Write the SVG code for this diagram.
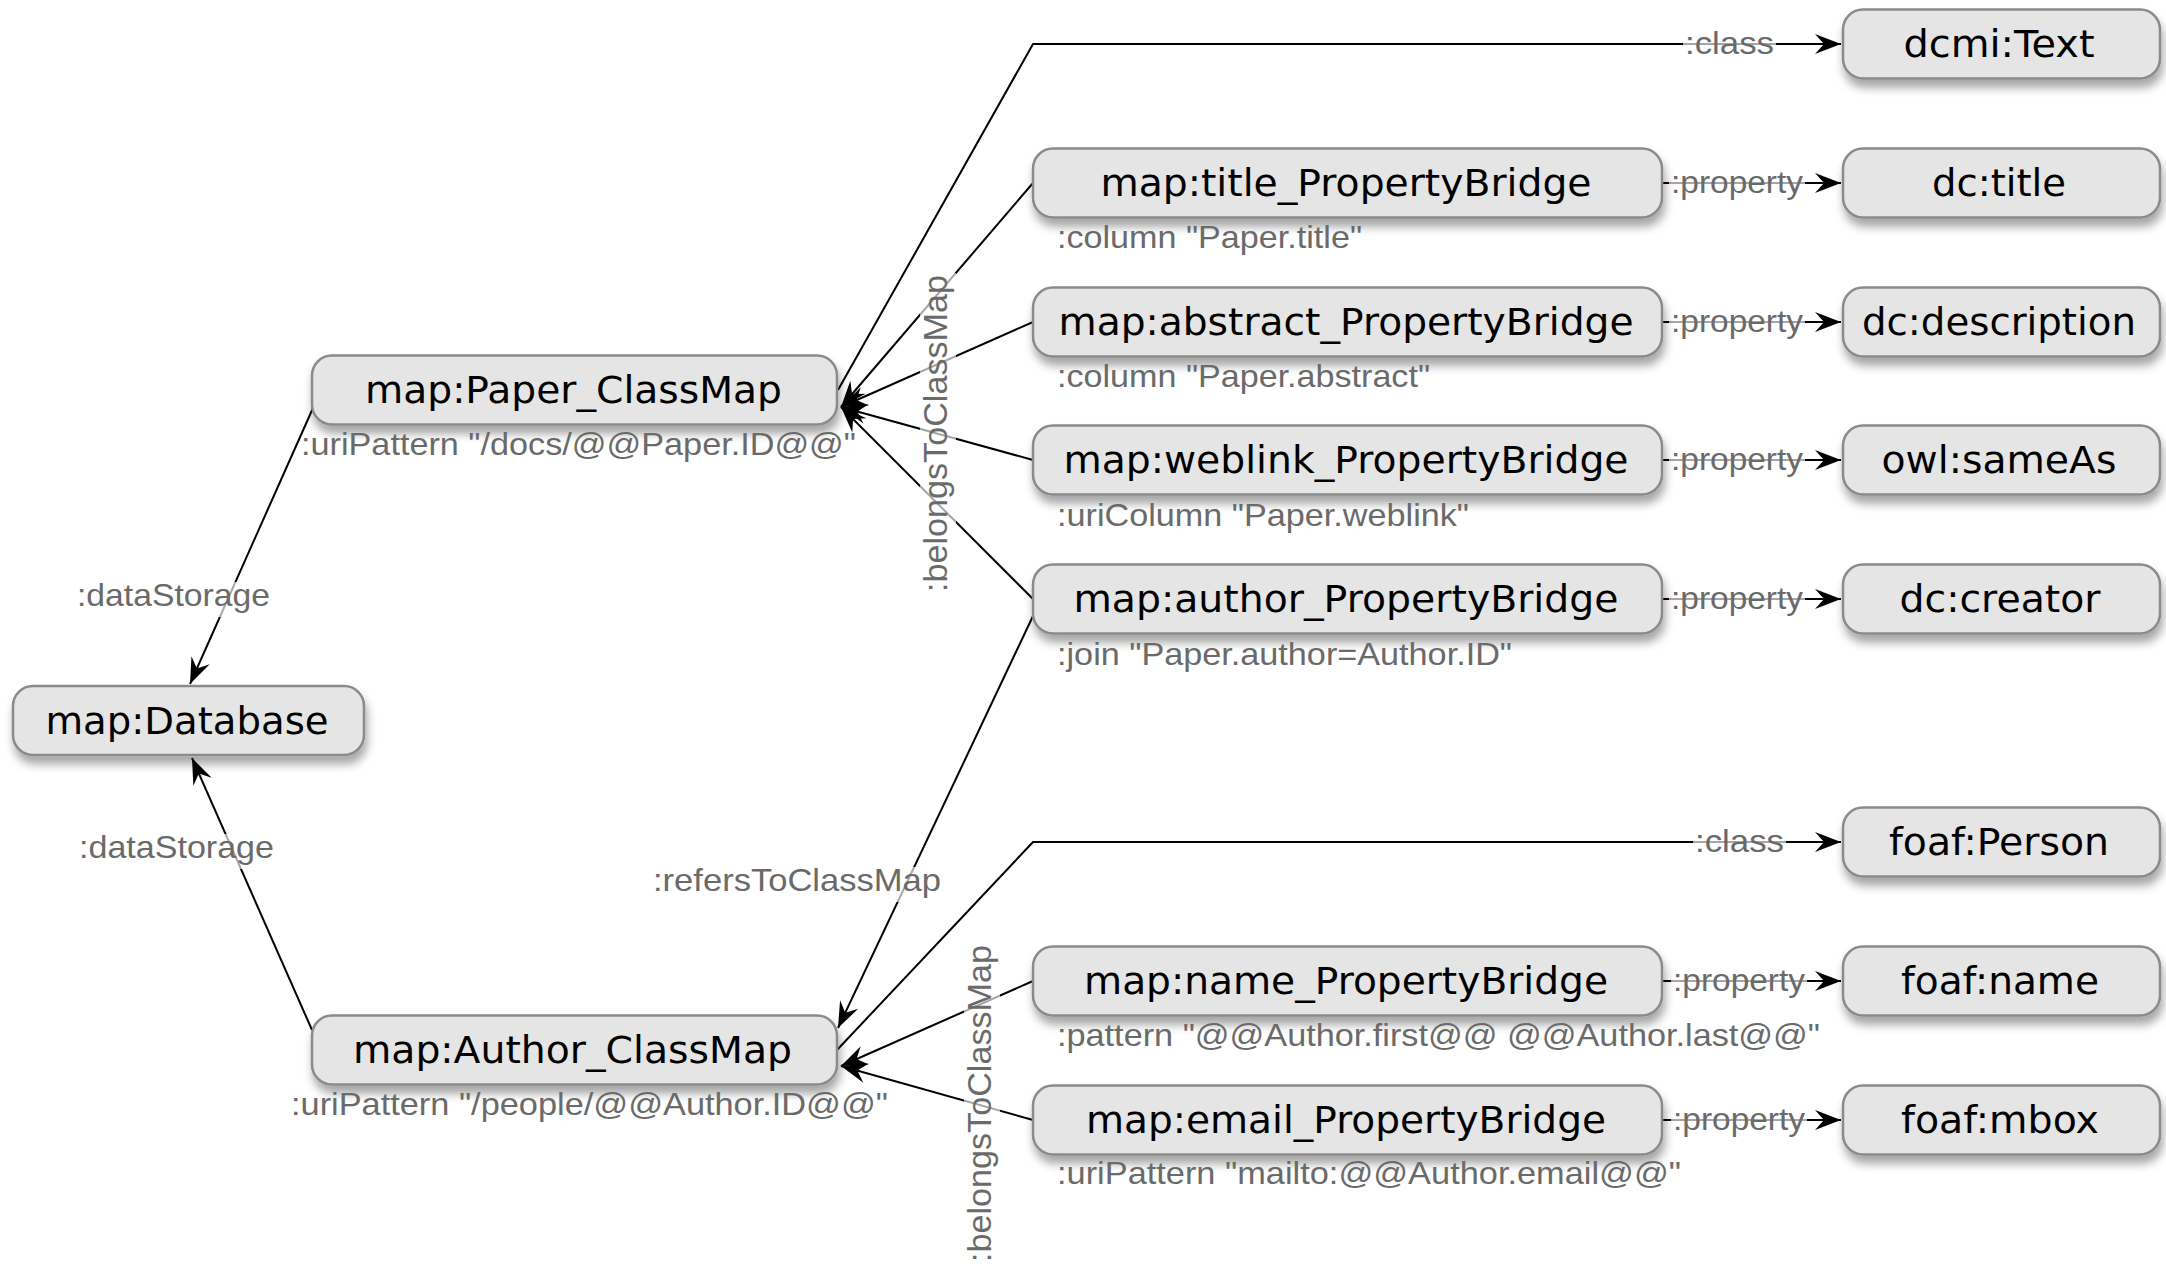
<svg xmlns="http://www.w3.org/2000/svg" width="2166" height="1264" viewBox="0 0 2166 1264">
<style>
.box{fill:#e5e5e5;stroke:#8a8a8a;stroke-width:2.5;filter:url(#sh)}
.nt{font-family:"DejaVu Sans",Verdana,sans-serif;font-size:37px;fill:#000;text-anchor:middle}
.gl{font-family:"Liberation Sans",Arial,sans-serif;font-size:32px;fill:#6a6a6a}
.vl{font-family:"Liberation Sans",Arial,sans-serif;font-size:34px;fill:#6a6a6a;text-anchor:middle}
.ea{fill:none;stroke:#000;stroke-width:2;marker-end:url(#arr)}
.lb{fill:#fff;fill-opacity:0.65}
</style>
<defs>
<filter id="sh" x="-10%" y="-20%" width="125%" height="170%">
<feGaussianBlur in="SourceAlpha" stdDeviation="5"/>
<feOffset dx="2" dy="8" result="b"/>
<feFlood flood-color="#000" flood-opacity="0.35"/>
<feComposite in2="b" operator="in"/>
<feMerge><feMergeNode/><feMergeNode in="SourceGraphic"/></feMerge>
</filter>
<marker id="arr" markerUnits="userSpaceOnUse" viewBox="-28 -12 30 24" refX="0" refY="0" markerWidth="30" markerHeight="24" orient="auto">
<path d="M0,0 L-26,-10 L-17,0 L-26,10 Z" fill="#000"/>
</marker>
</defs>
<rect width="2166" height="1264" fill="#fff"/>
<g id="connectors">
<line class="ea" x1="313" y1="408" x2="190" y2="684"/>
<line class="ea" x1="312" y1="1030" x2="192" y2="758"/>
<polyline class="ea" points="838,390 1033,44 1841,44"/>
<line class="ea" x1="1033" y1="183" x2="841" y2="407"/>
<line class="ea" x1="1033" y1="322" x2="841" y2="407"/>
<line class="ea" x1="1033" y1="460" x2="841" y2="407"/>
<line class="ea" x1="1033" y1="599" x2="841" y2="407"/>
<line class="ea" x1="1033" y1="616" x2="838" y2="1028"/>
<polyline class="ea" points="837,1050 1033,842 1841,842"/>
<line class="ea" x1="1033" y1="981" x2="841" y2="1066"/>
<line class="ea" x1="1033" y1="1120" x2="841" y2="1066"/>
<line class="ea" x1="1662" y1="183" x2="1841" y2="183"/>
<line class="ea" x1="1662" y1="322" x2="1841" y2="322"/>
<line class="ea" x1="1662" y1="460" x2="1841" y2="460"/>
<line class="ea" x1="1662" y1="599" x2="1841" y2="599"/>
<line class="ea" x1="1662" y1="981" x2="1841" y2="981"/>
<line class="ea" x1="1662" y1="1120" x2="1841" y2="1120"/>
<g id="edge-labels">
<rect class="lb" x="75" y="582" width="198" height="35"/>
<text class="gl" x="77" y="606" textLength="193" lengthAdjust="spacingAndGlyphs">:dataStorage</text>
<rect class="lb" x="77" y="834" width="200" height="35"/>
<text class="gl" x="79" y="858" textLength="195" lengthAdjust="spacingAndGlyphs">:dataStorage</text>
<rect class="lb" x="651" y="867" width="292" height="35"/>
<text class="gl" x="653" y="891" textLength="288" lengthAdjust="spacingAndGlyphs">:refersToClassMap</text>
<rect class="lb" x="1683" y="30" width="93" height="28"/>
<text class="gl" x="1685" y="54" textLength="89" lengthAdjust="spacingAndGlyphs">:class</text>
<rect class="lb" x="1693" y="828" width="93" height="28"/>
<text class="gl" x="1695" y="852" textLength="89" lengthAdjust="spacingAndGlyphs">:class</text>
<rect class="lb" x="1669" y="169" width="136" height="35"/>
<text class="gl" x="1671" y="193" textLength="132" lengthAdjust="spacingAndGlyphs">:property</text>
<rect class="lb" x="1669" y="308" width="136" height="35"/>
<text class="gl" x="1671" y="332" textLength="132" lengthAdjust="spacingAndGlyphs">:property</text>
<rect class="lb" x="1669" y="446" width="136" height="35"/>
<text class="gl" x="1671" y="470" textLength="132" lengthAdjust="spacingAndGlyphs">:property</text>
<rect class="lb" x="1669" y="585" width="136" height="35"/>
<text class="gl" x="1671" y="609" textLength="132" lengthAdjust="spacingAndGlyphs">:property</text>
<rect class="lb" x="1671" y="967" width="136" height="35"/>
<text class="gl" x="1673" y="991" textLength="132" lengthAdjust="spacingAndGlyphs">:property</text>
<rect class="lb" x="1671" y="1106" width="136" height="35"/>
<text class="gl" x="1673" y="1130" textLength="132" lengthAdjust="spacingAndGlyphs">:property</text>
<rect class="lb" x="920" y="273" width="36" height="321"/>
<text class="vl" transform="translate(947,433.5) rotate(-90)" textLength="317" lengthAdjust="spacingAndGlyphs">:belongsToClassMap</text>
<rect class="lb" x="964" y="943" width="36" height="321"/>
<text class="vl" transform="translate(991,1103.5) rotate(-90)" textLength="317" lengthAdjust="spacingAndGlyphs">:belongsToClassMap</text>
</g>
</g>
<g id="n-dcmiText"><rect class="box" x="1843" y="9.5" width="317" height="69" rx="20"/><text class="nt" x="1999" y="57" textLength="191" lengthAdjust="spacingAndGlyphs">dcmi:Text</text></g>
<g id="n-titlePB"><rect class="box" x="1033" y="148.5" width="629" height="69" rx="20"/><text class="nt" x="1346" y="196" textLength="491" lengthAdjust="spacingAndGlyphs">map:title_PropertyBridge</text><text class="gl" x="1057" y="248" textLength="305" lengthAdjust="spacingAndGlyphs">:column "Paper.title"</text></g>
<g id="n-dcTitle"><rect class="box" x="1843" y="148.5" width="317" height="69" rx="20"/><text class="nt" x="1999" y="196" textLength="134" lengthAdjust="spacingAndGlyphs">dc:title</text></g>
<g id="n-abstractPB"><rect class="box" x="1033" y="287.5" width="629" height="69" rx="20"/><text class="nt" x="1346" y="335" textLength="575" lengthAdjust="spacingAndGlyphs">map:abstract_PropertyBridge</text><text class="gl" x="1057" y="387" textLength="373" lengthAdjust="spacingAndGlyphs">:column "Paper.abstract"</text></g>
<g id="n-dcDescription"><rect class="box" x="1843" y="287.5" width="317" height="69" rx="20"/><text class="nt" x="1999" y="335" textLength="274" lengthAdjust="spacingAndGlyphs">dc:description</text></g>
<g id="n-weblinkPB"><rect class="box" x="1033" y="425.5" width="629" height="69" rx="20"/><text class="nt" x="1346" y="473" textLength="565" lengthAdjust="spacingAndGlyphs">map:weblink_PropertyBridge</text><text class="gl" x="1057" y="526" textLength="412" lengthAdjust="spacingAndGlyphs">:uriColumn "Paper.weblink"</text></g>
<g id="n-owlSameAs"><rect class="box" x="1843" y="425.5" width="317" height="69" rx="20"/><text class="nt" x="1999" y="473" textLength="235" lengthAdjust="spacingAndGlyphs">owl:sameAs</text></g>
<g id="n-authorPB"><rect class="box" x="1033" y="564.5" width="629" height="69" rx="20"/><text class="nt" x="1346" y="612" textLength="545" lengthAdjust="spacingAndGlyphs">map:author_PropertyBridge</text><text class="gl" x="1057" y="665" textLength="455" lengthAdjust="spacingAndGlyphs">:join "Paper.author=Author.ID"</text></g>
<g id="n-dcCreator"><rect class="box" x="1843" y="564.5" width="317" height="69" rx="20"/><text class="nt" x="2000" y="612" textLength="201" lengthAdjust="spacingAndGlyphs">dc:creator</text></g>
<g id="n-paperClassMap"><rect class="box" x="312" y="355.5" width="525" height="69" rx="20"/><text class="nt" x="573.5" y="403" textLength="417" lengthAdjust="spacingAndGlyphs">map:Paper_ClassMap</text><text class="gl" x="301" y="455" textLength="555" lengthAdjust="spacingAndGlyphs">:uriPattern "/docs/@@Paper.ID@@"</text></g>
<g id="n-database"><rect class="box" x="13" y="686" width="351" height="69" rx="20"/><text class="nt" x="187" y="734" textLength="283" lengthAdjust="spacingAndGlyphs">map:Database</text></g>
<g id="n-foafPerson"><rect class="box" x="1843" y="807.5" width="317" height="69" rx="20"/><text class="nt" x="1999" y="855" textLength="220" lengthAdjust="spacingAndGlyphs">foaf:Person</text></g>
<g id="n-namePB"><rect class="box" x="1033" y="946.5" width="629" height="69" rx="20"/><text class="nt" x="1346" y="994" textLength="524" lengthAdjust="spacingAndGlyphs">map:name_PropertyBridge</text><text class="gl" x="1057" y="1046" textLength="763" lengthAdjust="spacingAndGlyphs">:pattern "@@Author.first@@ @@Author.last@@"</text></g>
<g id="n-foafName"><rect class="box" x="1843" y="946.5" width="317" height="69" rx="20"/><text class="nt" x="2000" y="994" textLength="198" lengthAdjust="spacingAndGlyphs">foaf:name</text></g>
<g id="n-emailPB"><rect class="box" x="1033" y="1085.5" width="629" height="69" rx="20"/><text class="nt" x="1346" y="1133" textLength="520" lengthAdjust="spacingAndGlyphs">map:email_PropertyBridge</text><text class="gl" x="1057" y="1184" textLength="624" lengthAdjust="spacingAndGlyphs">:uriPattern "mailto:@@Author.email@@"</text></g>
<g id="n-foafMbox"><rect class="box" x="1843" y="1085.5" width="317" height="69" rx="20"/><text class="nt" x="2000" y="1133" textLength="198" lengthAdjust="spacingAndGlyphs">foaf:mbox</text></g>
<g id="n-authorClassMap"><rect class="box" x="312" y="1015.5" width="525" height="69" rx="20"/><text class="nt" x="572.5" y="1063" textLength="439" lengthAdjust="spacingAndGlyphs">map:Author_ClassMap</text><text class="gl" x="291" y="1115" textLength="597" lengthAdjust="spacingAndGlyphs">:uriPattern "/people/@@Author.ID@@"</text></g>
</svg>
